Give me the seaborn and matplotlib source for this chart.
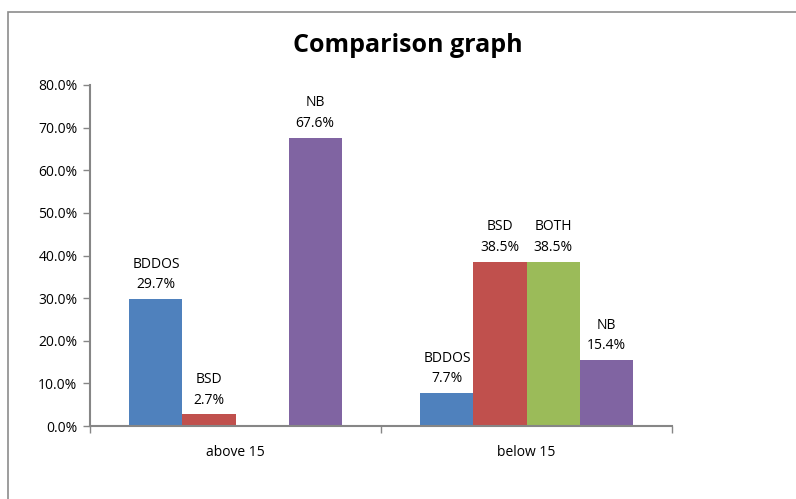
import matplotlib
matplotlib.use("Agg")
import matplotlib.pyplot as plt
import seaborn as sns
import pandas as pd
from matplotlib.patches import Rectangle
from matplotlib.ticker import PercentFormatter, FixedLocator

groups = ["above 15", "below 15"]
series = ["BDDOS", "BSD", "BOTH", "NB"]
above_15 = [29.7, 2.7, 0.0, 67.6]
below_15 = [7.7, 38.5, 38.5, 15.4]
colors = ["#4F81BD", "#C0504D", "#9BBB59", "#8064A2"]
title = "Comparison graph"

rows = []
for g, vals in zip(groups, [above_15, below_15]):
    for s, v in zip(series, vals):
        rows.append({"group": g, "series": s, "value": v})
df = pd.DataFrame(rows)

sns.set_theme(style="white")
plt.rcParams["font.family"] = ["Open Sans", "DejaVu Sans"]
plt.rcParams["text.color"] = "black"
plt.rcParams["xtick.color"] = "black"
plt.rcParams["ytick.color"] = "black"

fig = plt.figure(figsize=(7.96, 4.99), dpi=100)
W, H = 796, 499
ax = fig.add_axes([90 / W, 1 - 426 / H, (672 - 90) / W, (426 - 85) / H])

sns.barplot(data=df, x="group", y="value", hue="series", order=groups,
            hue_order=series, palette=colors, width=0.729, ax=ax,
            legend=False, saturation=1, edgecolor="none", linewidth=0)

ax.set_ylim(0, 80)
ax.set_xlim(-0.5, 1.5)
ax.yaxis.set_major_locator(FixedLocator(range(0, 81, 10)))
ax.yaxis.set_major_formatter(PercentFormatter(decimals=1))
ax.set_xlabel("")
ax.set_ylabel("")

for sp in ["top", "right"]:
    ax.spines[sp].set_visible(False)
for sp in ["left", "bottom"]:
    ax.spines[sp].set_color("#868686")
    ax.spines[sp].set_linewidth(1.5)

ax.tick_params(axis="y", which="major", left=True, length=5, width=1,
               color="#868686", labelsize=10, labelcolor="black", pad=4)
ax.tick_params(axis="x", which="major", bottom=False, labelsize=10,
               labelcolor="black", pad=8)
ax.set_xticks([-0.5, 0.5, 1.5], minor=True)
ax.tick_params(axis="x", which="minor", bottom=True, length=5, width=1,
               color="#868686")

for container, s in zip(ax.containers, series):
    for bar in container:
        h = bar.get_height()
        if h <= 0:
            continue
        ax.annotate(f"{s}\n{h:.1f}%", (bar.get_x() + bar.get_width() / 2, h),
                    xytext=(0, 5), textcoords="offset points",
                    ha="center", va="bottom", fontsize=10, linespacing=1.5,
                    color="black")

fig.text(408 / W, 1 - 46 / H, title, ha="center", va="center",
         fontsize=18, fontweight="bold", color="black")

fig.patches.append(Rectangle((8 / W, -0.1), 1.2, 1 - 12 / H + 0.1,
                             transform=fig.transFigure, fill=False,
                             edgecolor="#8c8c8c", linewidth=1.2))

fig.savefig("out.png", dpi=100)
